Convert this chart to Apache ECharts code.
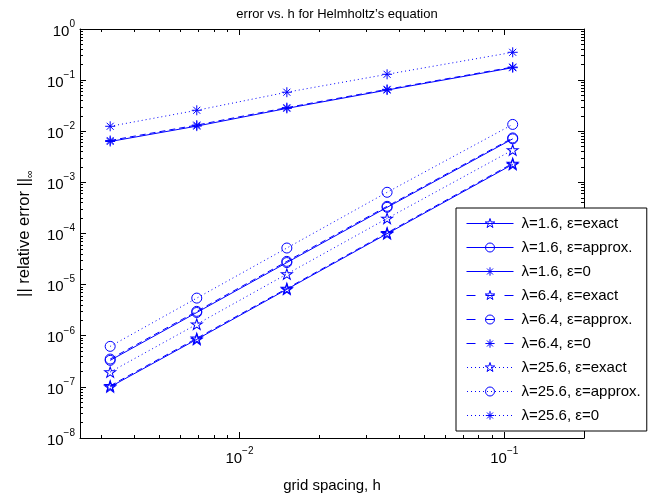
<!DOCTYPE html>
<html><head><meta charset="utf-8">
<script src="https://cdn.jsdelivr.net/npm/echarts@6/dist/echarts.min.js"></script>
<style>html,body{margin:0;padding:0;background:#fff}#c{width:648px;height:498px}</style>
</head><body><div id="c"></div>
<script>
// grid spacing h
const hValues = [0.00325, 0.0069, 0.0151, 0.0361, 0.1076];
// relative error values
const exact16  = [1.0e-7, 8.5e-7, 8.1e-6, 9.9e-5, 2.25e-3];
const approx16 = [3.3e-7, 2.85e-6, 2.7e-5, 3.25e-4, 7.1e-3];
const zero16   = [6.3e-3, 1.26e-2, 2.8e-2, 6.4e-2, 1.75e-1];
const exact64  = [1.05e-7, 8.9e-7, 8.4e-6, 1.03e-4, 2.35e-3];
const approx64 = [3.5e-7, 3.0e-6, 2.85e-5, 3.4e-4, 7.4e-3];
const zero64   = [6.6e-3, 1.32e-2, 2.9e-2, 6.6e-2, 1.8e-1];
const exact256  = [1.95e-7, 1.68e-6, 1.61e-5, 1.97e-4, 4.3e-3];
const approx256 = [6.2e-7, 5.45e-6, 5.2e-5, 6.4e-4, 1.36e-2];
const zero256   = [1.25e-2, 2.57e-2, 5.8e-2, 1.3e-1, 3.5e-1];
const seriesNames = [
  'λ=1.6, ε=exact', 'λ=1.6, ε=approx.', 'λ=1.6, ε=0',
  'λ=6.4, ε=exact', 'λ=6.4, ε=approx.', 'λ=6.4, ε=0',
  'λ=25.6, ε=exact', 'λ=25.6, ε=approx.', 'λ=25.6, ε=0'
];
const seriesValues = [exact16, approx16, zero16, exact64, approx64, zero64, exact256, approx256, zero256];
// axis ticks
const xMajorTicks = [0.01, 0.1];
const yMajorTicks = [1e-8, 1e-7, 1e-6, 1e-5, 1e-4, 1e-3, 1e-2, 1e-1, 1];
const titleText = 'error vs. h for Helmholtz\u2019s equation';
const xLabelText = 'grid spacing, h';
const yLabelText = '|| relative error ||';

const FONT = '"Liberation Sans", Arial, Helvetica, sans-serif';
const BLUE = '#0000ff';
const STAR = 'path://M0,-1L0.2245,-0.309L0.951,-0.309L0.363,0.118L0.588,0.809L0,0.382L-0.588,0.809L-0.363,0.118L-0.951,-0.309L-0.2245,-0.309Z';
const ASTER = 'path://M0,-1L0,1M-1,0L1,0M-0.7,-0.7L0.7,0.7M-0.7,0.7L0.7,-0.7';
const symbols = [STAR, 'circle', ASTER];
const symSizes = [[11, 10.5], 10, 10];
const lineTypes = ['solid', [6, 4], [1, 3]];

// legend icon: line sample + marker drawn as one outline path (47 x 10 box)
function legendIconPath(kind, lam) {
  let p = 'M0,0M47,10';
  if (lam === 0) p += 'M0,5L47,5';
  else if (lam === 1) p += 'M0,5L9,5M19,5L28,5M38,5L47,5';
  else { for (let x = 0.5; x < 46.5; x += 4) p += 'M' + x + ',5L' + (x + 1) + ',5'; }
  const cx = 23.5, cy = 5;
  if (kind === 0) {
    const pts = [[0,-1],[0.2245,-0.309],[0.951,-0.309],[0.363,0.118],[0.588,0.809],[0,0.382],[-0.588,0.809],[-0.363,0.118],[-0.951,-0.309],[-0.2245,-0.309]];
    p += pts.map((q, i) => (i ? 'L' : 'M') + (cx + q[0] * 5).toFixed(2) + ',' + (cy + q[1] * 5).toFixed(2)).join('') + 'Z';
  } else if (kind === 1) {
    p += 'M28,5A4.5,4.5,0,1,1,19,5A4.5,4.5,0,1,1,28,5Z';
  } else {
    const r = 4.2, d = 3;
    p += 'M' + cx + ',' + (cy - r) + 'L' + cx + ',' + (cy + r) + 'M' + (cx - r) + ',' + cy + 'L' + (cx + r) + ',' + cy;
    p += 'M' + (cx - d) + ',' + (cy - d) + 'L' + (cx + d) + ',' + (cy + d) + 'M' + (cx - d) + ',' + (cy + d) + 'L' + (cx + d) + ',' + (cy - d);
  }
  return 'path://' + p;
}

function minorList(e0, e1) {
  const out = [];
  for (let e = e0; e < e1; e++) for (let k = 2; k <= 9; k++) out.push(Number((k * Math.pow(10, e)).toPrecision(3)));
  return out;
}
const xMinor = minorList(-3, -1).filter(v => v > 0.0025 && v < 0.2);
const yMinor = minorList(-8, 0);

function pow10Label(v) {
  const e = Math.round(Math.log10(v));
  return '{b|10}{e|' + (e < 0 ? '\u2212' + (-e) : e) + '}';
}
const richLab = {
  b: {fontSize: 15, fontFamily: FONT, color: '#000', lineHeight: 20, verticalAlign: 'bottom'},
  e: {fontSize: 10, fontFamily: FONT, color: '#000', lineHeight: 8, verticalAlign: 'top'}
};

const XMIN = 0.0025, XMAX = 0.2, YMIN = 1e-8, YMAX = 1;

function mkAxis(dim, pos, ticks, len, labels, line) {
  return {
    type: 'log', logBase: 10, min: dim === 'x' ? XMIN : YMIN, max: dim === 'x' ? XMAX : YMAX,
    position: pos, splitLine: {show: false},
    axisLine: {show: line, onZero: false, lineStyle: {color: '#000', width: 1}},
    axisTick: {show: true, inside: true, length: len, customValues: ticks, lineStyle: {color: '#000', width: 1}},
    axisLabel: {show: !!labels, customValues: ticks, margin: dim === 'x' ? 8 : 5, formatter: pow10Label, rich: richLab},
    minorTick: {show: false}, silent: true
  };
}

const xAxes = [
  Object.assign(mkAxis('x', 'bottom', xMajorTicks, 6, true, true), {
    name: xLabelText, nameLocation: 'middle', nameGap: 40,
    nameTextStyle: {fontSize: 15, fontFamily: FONT, color: '#000'}
  }),
  mkAxis('x', 'bottom', xMinor, 3, false, false),
  mkAxis('x', 'top', xMajorTicks, 6, false, true),
  mkAxis('x', 'top', xMinor, 3, false, false)
];
const yAxes = [
  Object.assign(mkAxis('y', 'left', yMajorTicks, 6, true, true), {
    name: '{m|' + yLabelText + '}{s|\u221e}', nameLocation: 'middle', nameGap: 45,
    nameTextStyle: {fontSize: 16.5, fontFamily: FONT, color: '#000', rich: {
      m: {fontSize: 16.5, fontFamily: FONT, color: '#000', lineHeight: 19, verticalAlign: 'top'},
      s: {fontSize: 11, fontFamily: FONT, color: '#000', lineHeight: 11, verticalAlign: 'bottom'}
    }}
  }),
  mkAxis('y', 'left', yMinor, 3, false, false),
  mkAxis('y', 'right', yMajorTicks, 6, false, true),
  mkAxis('y', 'right', yMinor, 3, false, false)
];

const series = seriesNames.map((name, i) => {
  const vals = seriesValues[i];
  const lam = Math.floor(i / 3), kind = i % 3;
  return {
    type: 'line', name: name, color: BLUE,
    data: hValues.map((h, j) => [h, vals[j]]),
    xAxisIndex: 0, yAxisIndex: 0,
    symbol: symbols[kind], symbolSize: symSizes[kind], showSymbol: true,
    lineStyle: {color: BLUE, width: 1, type: lineTypes[lam]},
    itemStyle: {color: 'rgba(0,0,0,0)', borderColor: BLUE, borderWidth: 1},
    emphasis: {disabled: true}, silent: true, animation: false
  };
});

const legendData = seriesNames.map((name, i) => ({
  name: name,
  icon: legendIconPath(i % 3, Math.floor(i / 3))
}));

const chart = echarts.init(document.getElementById('c'), null, {renderer: 'canvas'});
chart.setOption({
  animation: false,
  backgroundColor: '#fff',
  title: {text: titleText, left: 332, top: 3, textAlign: 'center',
    textStyle: {fontSize: 13, fontWeight: 'normal', fontFamily: FONT, color: '#000'}},
  grid: {left: 80, top: 29, right: 64, bottom: 53, containLabel: false},
  xAxis: xAxes,
  yAxis: yAxes,
  legend: {orient: 'vertical', left: 456, top: 208, padding: [8, 6, 8, 10], itemGap: 9,
    itemWidth: 47, itemHeight: 10, backgroundColor: '#fff', borderColor: '#000', borderWidth: 1,
    itemStyle: {color: 'rgba(0,0,0,0)', borderColor: BLUE, borderWidth: 1},
    selectedMode: false, textStyle: {fontSize: 15, fontFamily: FONT, color: '#000', padding: [0, 0, 0, 3]},
    data: legendData},
  series: series
});
</script></body></html>
